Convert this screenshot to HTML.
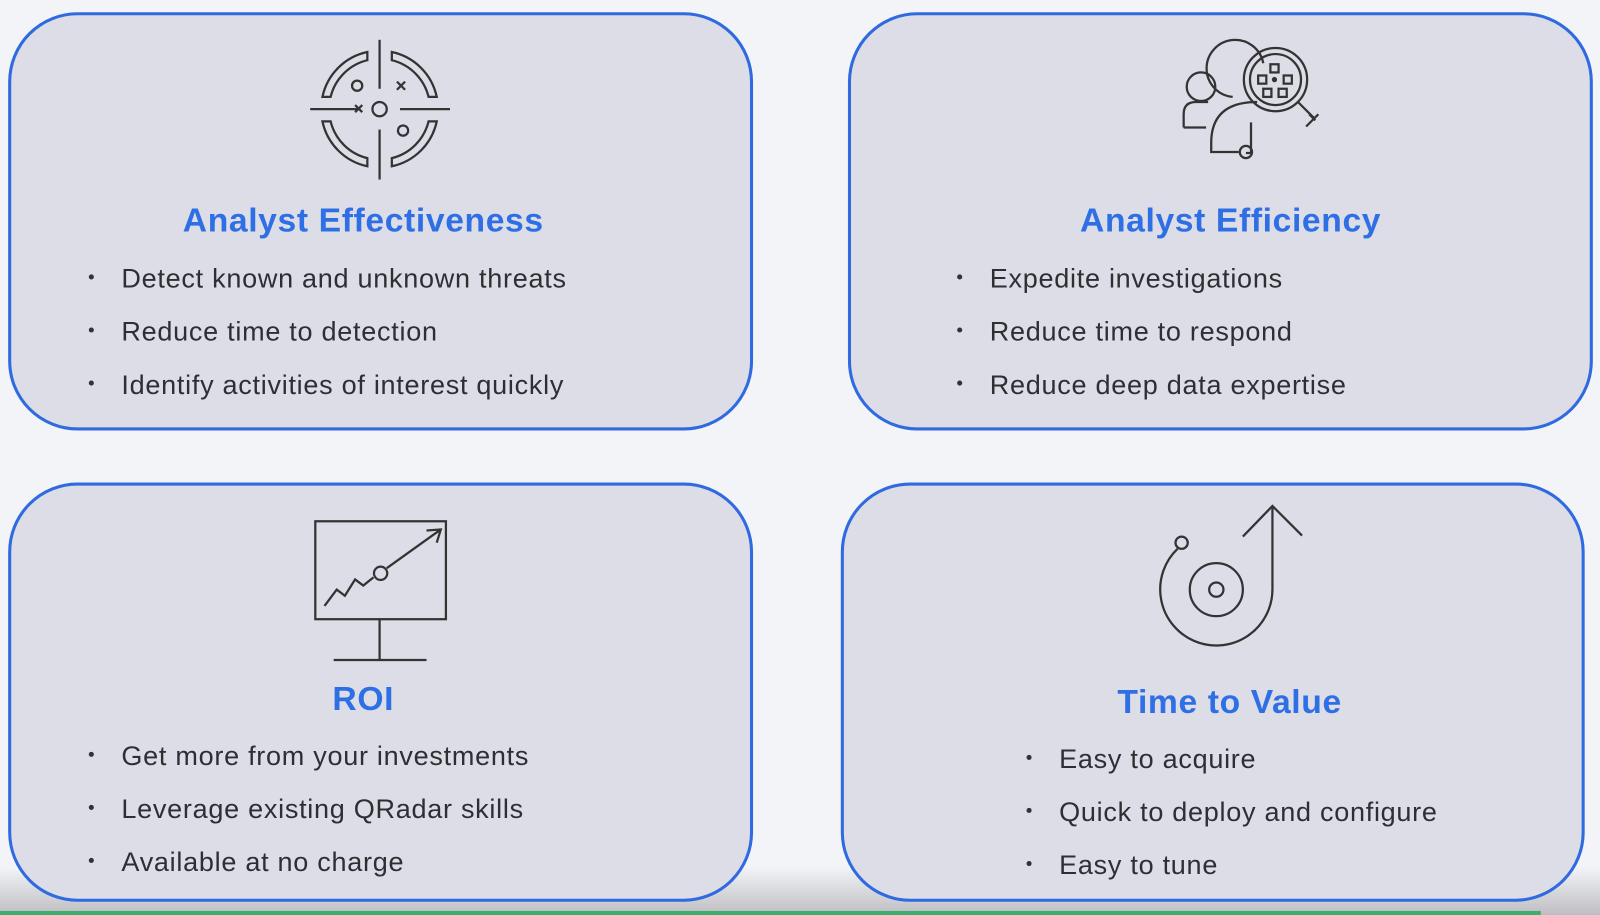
<!DOCTYPE html>
<html><head><meta charset="utf-8">
<style>
html,body{margin:0;padding:0;width:1600px;height:915px;overflow:hidden;background:#f3f4f8;}
#w{position:absolute;left:0;top:0;width:1568px;height:897px;transform:scale(1.0204,1.0201);transform-origin:0 0;font-family:"Liberation Sans",sans-serif;}
.box{position:absolute;background:#dcdde6;border:3px solid #2f6ae0;border-radius:68px;box-sizing:border-box;}
.t{position:absolute;color:#2f6fe6;font-weight:bold;font-size:33px;letter-spacing:0.6px;text-align:center;width:800px;}
.b{position:absolute;color:#2e2e33;font-size:26.5px;letter-spacing:0.7px;white-space:nowrap;}
.d{position:absolute;width:5px;height:5px;border-radius:50%;background:#333;}
#shade{position:absolute;left:0;top:850px;width:1568px;height:47px;background:linear-gradient(#f3f4f800,#bdbdc2);}
#green{position:absolute;left:0;top:893px;width:1510px;height:4px;background:#3fae6a;}
svg{position:absolute;left:0;top:0;}
</style></head><body><div id="w">
<div id="shade"></div>
<div class="box" style="left:8px;top:12px;width:730px;height:410px"></div>
<div class="box" style="left:831px;top:12px;width:730px;height:410px"></div>
<div class="box" style="left:8px;top:473px;width:730px;height:411px"></div>
<div class="box" style="left:824px;top:473px;width:729px;height:411px"></div>
<div id="green"></div>

<div class="t" style="left:-44px;top:197px">Analyst Effectiveness</div>
<div class="t" style="left:806px;top:197px">Analyst Efficiency</div>
<div class="t" style="left:-44px;top:666px">ROI</div>
<div class="t" style="left:805px;top:669px">Time to Value</div>

<div class="d" style="left:87px;top:269px"></div><div class="b" style="left:119px;top:258px">Detect known and unknown threats</div>
<div class="d" style="left:87px;top:321px"></div><div class="b" style="left:119px;top:310px">Reduce time to detection</div>
<div class="d" style="left:87px;top:373px"></div><div class="b" style="left:119px;top:362px">Identify activities of interest quickly</div>

<div class="d" style="left:938px;top:269px"></div><div class="b" style="left:970px;top:258px">Expedite investigations</div>
<div class="d" style="left:938px;top:321px"></div><div class="b" style="left:970px;top:310px">Reduce time to respond</div>
<div class="d" style="left:938px;top:373px"></div><div class="b" style="left:970px;top:362px">Reduce deep data expertise</div>

<div class="d" style="left:87px;top:737px"></div><div class="b" style="left:119px;top:726px">Get more from your investments</div>
<div class="d" style="left:87px;top:789px"></div><div class="b" style="left:119px;top:778px">Leverage existing QRadar skills</div>
<div class="d" style="left:87px;top:841px"></div><div class="b" style="left:119px;top:830px">Available at no charge</div>

<div class="d" style="left:1006px;top:740px"></div><div class="b" style="left:1038px;top:729px">Easy to acquire</div>
<div class="d" style="left:1006px;top:792px"></div><div class="b" style="left:1038px;top:781px">Quick to deploy and configure</div>
<div class="d" style="left:1006px;top:844px"></div><div class="b" style="left:1038px;top:833px">Easy to tune</div>

<svg width="1568" height="897" fill="none" stroke="#333" stroke-width="2.2">
 <g transform="translate(372,107)">
  <line x1="0" y1="-68" x2="0" y2="-20"/><line x1="0" y1="20" x2="0" y2="69"/>
  <line x1="-68" y1="0" x2="-20" y2="0"/><line x1="20" y1="0" x2="69" y2="0"/>
  <circle r="7"/>
  <circle cx="-22" cy="-23" r="5"/><circle cx="23" cy="21" r="5"/>
  <path d="M17,-27 l8,8 M25,-27 l-8,8 M-24,-4 l7,7 M-17,-4 l-7,7"/>
  <g id="q"><path d="M-12,-56 A57,57 0 0 0 -56,-12 L-48,-12 A49,49 0 0 1 -12,-48 Z"/></g>
  <use href="#q" transform="rotate(90)"/><use href="#q" transform="rotate(180)"/><use href="#q" transform="rotate(270)"/>
 </g>
 <g>
  <circle cx="1177" cy="85" r="14"/>
  <path d="M1160,125 V112 q0,-12 12,-12 h12"/><line x1="1160" y1="125" x2="1182" y2="125"/>
  <path d="M1238,62 A28,28 0 1 0 1208,95"/>
  <path d="M1232,100 q-45,0 -45,40 v9 h27"/><circle cx="1221" cy="149" r="6"/>
  <path d="M1226,120 v30 h-5"/>
  <circle cx="1250" cy="78" r="31"/><circle cx="1250" cy="78" r="25"/>
  <path d="M1272,100 l16,16 M1280,124 l12,-12 M1283,112 l6,6"/>
  <rect x="1245" y="63" width="8" height="8"/><rect x="1233" y="74" width="8" height="8"/><rect x="1258" y="74" width="8" height="8"/>
  <rect x="1238" y="87" width="8" height="8"/><rect x="1253" y="87" width="8" height="8"/>
  <circle cx="1249" cy="78" r="1.5" fill="#333"/>
 </g>
 <g>
  <rect x="309" y="511" width="128" height="96"/>
  <line x1="372" y1="607" x2="372" y2="647"/><line x1="327" y1="647" x2="418" y2="647"/>
  <polyline points="318,594 330,578 338,584 348,568 356,574 366,566"/>
  <circle cx="373" cy="562" r="6.5"/>
  <line x1="379" y1="557" x2="432" y2="519"/>
  <polyline points="418,520 432,519 428,532"/>
 </g>
 <g>
  <circle cx="1192" cy="578" r="7"/><circle cx="1192" cy="578" r="26"/>
  <circle cx="1158" cy="532" r="6"/>
  <path d="M1247,496 V578 A55,55 0 1 1 1154,538"/>
  <polyline points="1218,526 1247,496 1276,525"/>
 </g>
</svg>
</div></body></html>
